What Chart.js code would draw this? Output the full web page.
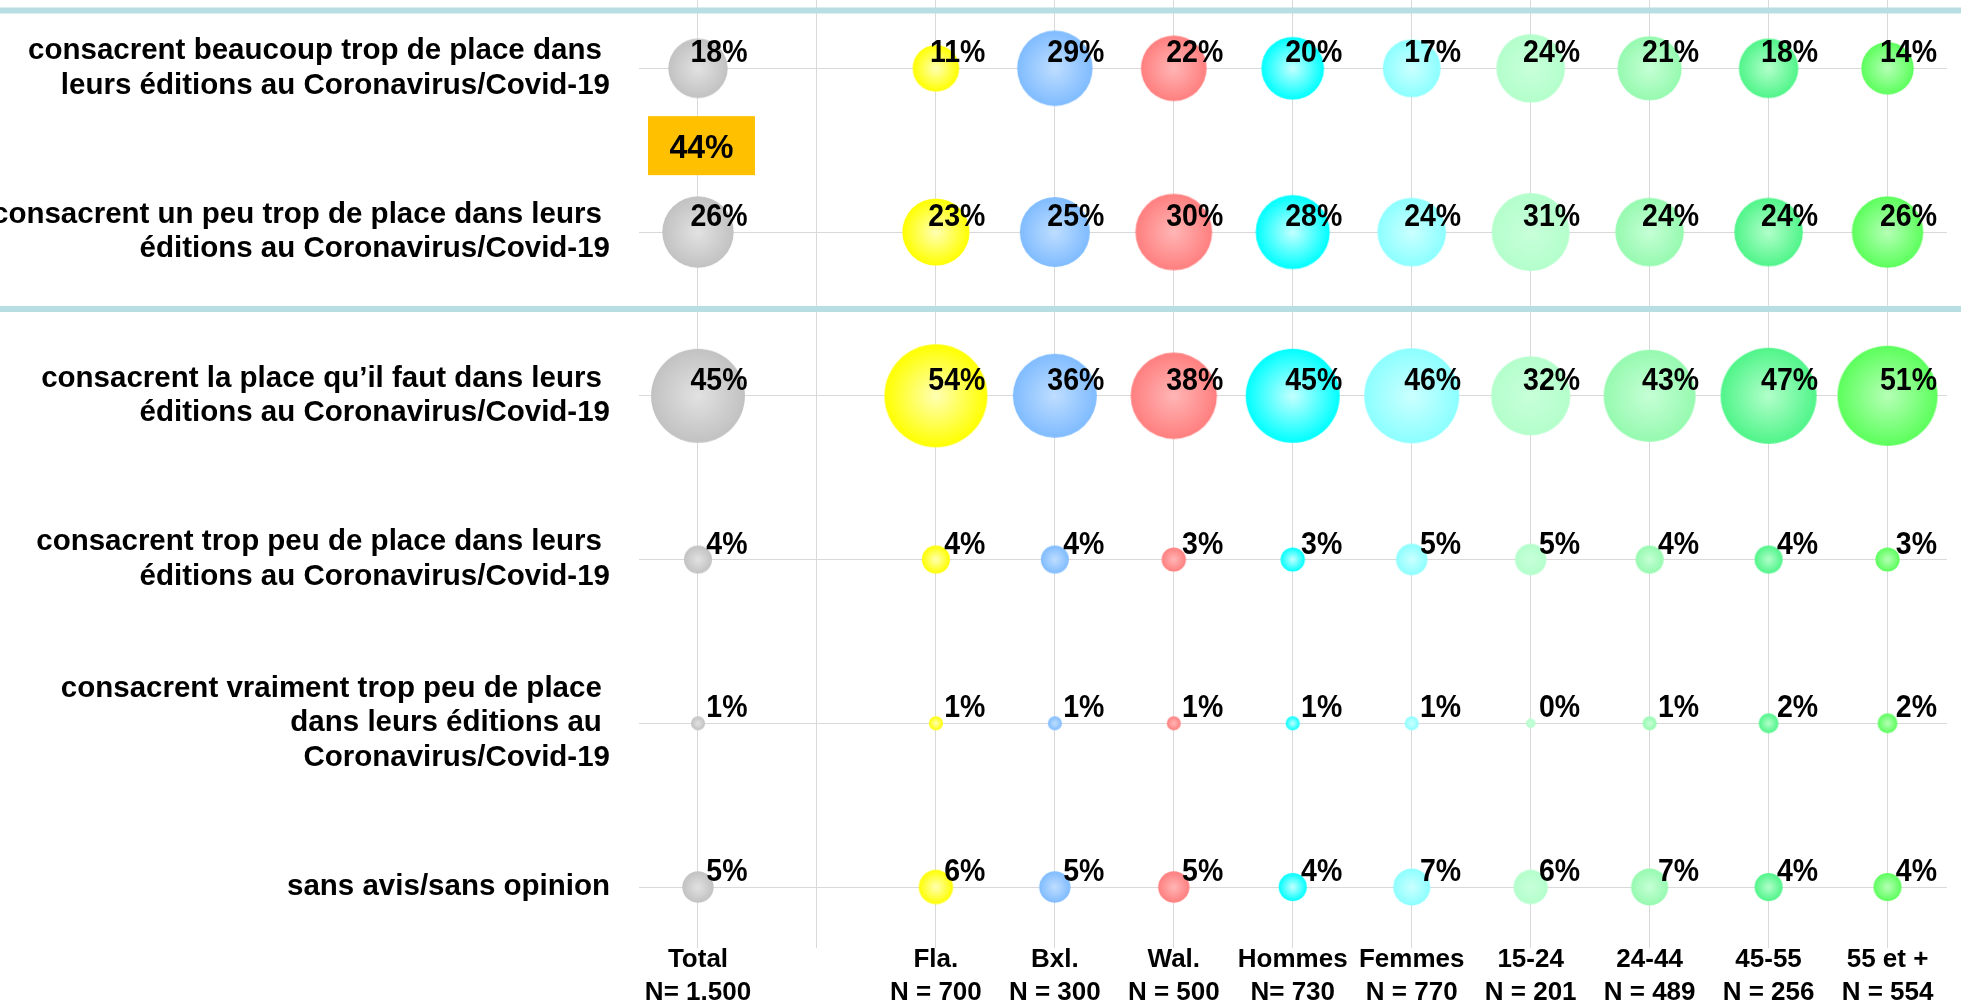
<!DOCTYPE html>
<html><head><meta charset="utf-8">
<script src="https://cdn.jsdelivr.net/npm/chart.js@4.4.1/dist/chart.umd.min.js"></script>
<style>html,body{margin:0;padding:0;background:#fff}#wrap{width:1961px;height:1003px;position:relative}</style>
</head><body><div id="wrap"><canvas id="c"></canvas></div>
<script>
// ---- DATA ----
const rowLabels = [
  ["consacrent beaucoup trop de place dans ", "leurs éditions au Coronavirus/Covid-19"],
  ["consacrent un peu trop de place dans leurs ", "éditions au Coronavirus/Covid-19"],
  ["consacrent la place qu’il faut dans leurs ", "éditions au Coronavirus/Covid-19"],
  ["consacrent trop peu de place dans leurs ", "éditions au Coronavirus/Covid-19"],
  ["consacrent vraiment trop peu de place ", "dans leurs éditions au ", "Coronavirus/Covid-19"],
  "sans avis/sans opinion"
];
const colLabels = [
  ["Total", "N= 1.500"], "", ["Fla.", "N = 700"], ["Bxl.", "N = 300"], ["Wal.", "N = 500"],
  ["Hommes", "N= 730"], ["Femmes", "N = 770"], ["15-24", "N = 201"], ["24-44", "N = 489"],
  ["45-55", "N = 256"], ["55 et +", "N = 554"]
];
const total   = [18, 26, 45, 4, 1, 5];
const fla     = [11, 23, 54, 4, 1, 6];
const bxl     = [29, 25, 36, 4, 1, 5];
const wal     = [22, 30, 38, 3, 1, 5];
const hommes  = [20, 28, 45, 3, 1, 4];
const femmes  = [17, 24, 46, 5, 1, 7];
const age1524 = [24, 31, 32, 5, 0, 6];
const age2444 = [21, 24, 43, 4, 1, 7];
const age4555 = [18, 24, 47, 4, 2, 4];
const age55   = [14, 26, 51, 3, 2, 4];
const netTooMuch = 44; // beaucoup + un peu trop (Total)

// column index -> series
const columns = [
  {col: 0, values: total},  {col: 2, values: fla},     {col: 3, values: bxl},
  {col: 4, values: wal},    {col: 5, values: hommes},  {col: 6, values: femmes},
  {col: 7, values: age1524},{col: 8, values: age2444}, {col: 9, values: age4555},
  {col: 10, values: age55}
];
// styles: [edge, centre]
const bubbleColors = [
  ['#c2c2c2', '#e2e2e2'], ['#ffff00', '#ffffb4'], ['#80bcff', '#bfdeff'],
  ['#ff7f7f', '#ffb6b6'], ['#00ffff', '#c4ffff'], ['#8cffff', '#ccffff'],
  ['#b4ffcc', '#c8ffda'], ['#96fab0', '#c6ffd6'], ['#50f58a', '#b2ffca'],
  ['#5cff5c', '#b6ffb6']
];
const FONT = '"Liberation Sans", Arial, sans-serif';
const radiusOf = v => 7 * Math.sqrt(Math.max(v, 0.45));

const imgCache = {};
function bubbleImage(colors, r) {
  const key = colors[0] + '_' + r.toFixed(2);
  if (imgCache[key]) return imgCache[key];
  const size = Math.ceil(2 * r) + 2;
  const cv = document.createElement('canvas');
  cv.width = size; cv.height = size;
  const g = cv.getContext('2d');
  const c = size / 2;
  const grad = g.createRadialGradient(c, c, 0, c, c, r);
  grad.addColorStop(0, colors[1]);
  grad.addColorStop(1, colors[0]);
  g.fillStyle = grad;
  g.beginPath(); g.arc(c, c, r, 0, Math.PI * 2); g.fill();
  imgCache[key] = cv;
  return cv;
}

const datasets = columns.map((c, i) => ({
  label: Array.isArray(colLabels[c.col]) ? colLabels[c.col][0] : colLabels[c.col],
  data: c.values.map((v, row) => ({x: c.col, y: 6 - row, r: radiusOf(v)})),
  pointStyle: (ctx) => (ctx.raw && ctx.raw.r) ? bubbleImage(bubbleColors[i], ctx.raw.r) : 'circle',
  backgroundColor: bubbleColors[i][0],
  borderWidth: 0,
  clip: false
}));

const zeroPad = s => { s.paddingTop = 0; s.paddingBottom = 0; s.paddingLeft = 0; s.paddingRight = 0; };

const decorPlugin = {
  id: 'decor',
  beforeDatasetsDraw(chart) {
    const {ctx, scales: {y}} = chart;
    ctx.save();
    ctx.fillStyle = 'rgb(183,222,226)';
    [6.353, 4.53].forEach(v => {
      const py = y.getPixelForValue(v);
      ctx.fillRect(0, py - 3, chart.width, 6);
    });
    ctx.restore();
  },
  afterDatasetsDraw(chart) {
    const {ctx, scales: {x, y}} = chart;
    ctx.save();
    ctx.fillStyle = '#000';
    ctx.font = 'bold 28.5px ' + FONT;
    ctx.textAlign = 'right';
    ctx.textBaseline = 'alphabetic';
    chart.data.datasets.forEach((ds, i) => {
      const meta = chart.getDatasetMeta(i);
      meta.data.forEach((el, j) => {
        ctx.save();
        ctx.translate(el.x + 49.5, el.y - 6);
        ctx.scale(1, 1.1);
        ctx.fillText(columns[i].values[j] + '%', 0, 0);
        ctx.restore();
      });
    });
    // net box
    const bx = x.getPixelForValue(0) + 3.5;
    const by = y.getPixelForValue(5.5) - 4.5;
    ctx.fillStyle = '#FFC000';
    ctx.fillRect(bx - 53.5, by - 29.5, 107, 59);
    ctx.fillStyle = '#000';
    ctx.font = 'bold 32px ' + FONT;
    ctx.textAlign = 'center';
    ctx.textBaseline = 'alphabetic';
    ctx.save();
    ctx.translate(bx, by + 12);
    ctx.scale(1, 1.05);
    ctx.fillText(netTooMuch + '%', 0, 0);
    ctx.restore();
    ctx.restore();
  }
};

new Chart(document.getElementById('c'), {
  type: 'bubble',
  data: {datasets},
  options: {
    responsive: true,
    maintainAspectRatio: false,
    animation: false,
    events: [],
    layout: {autoPadding: false, padding: {left: 0, right: 14, top: 0, bottom: 0}},
    plugins: {legend: {display: false}, tooltip: {enabled: false}},
    scales: {
      x: {
        type: 'linear', min: -0.5, max: 10.5,
        afterBuildTicks: s => { s.ticks = colLabels.map((_, i) => ({value: i})); },
        afterFit: s => { s.height = 55; zeroPad(s); },
        border: {display: false},
        grid: {color: '#d9d9d9', lineWidth: 1, drawTicks: false},
        ticks: {
          autoSkip: false, maxRotation: 0, padding: -4, color: '#000',
          font: {family: FONT, size: 26, weight: 'bold', lineHeight: 1.25},
          callback: v => colLabels[v]
        }
      },
      y: {
        type: 'linear', min: 0.6275, max: 6.417,
        afterBuildTicks: s => { s.ticks = [1, 2, 3, 4, 5, 6].map(v => ({value: v})); },
        afterFit: s => { s.width = 638.5; zeroPad(s); },
        border: {display: false},
        grid: {color: '#d9d9d9', lineWidth: 1, drawTicks: false},
        ticks: {
          padding: 28.5, color: '#000',
          font: {family: FONT, size: 29.5, weight: 'bold', lineHeight: 1.17},
          callback: v => rowLabels[6 - v]
        }
      }
    }
  },
  plugins: [decorPlugin]
});
</script></body></html>
